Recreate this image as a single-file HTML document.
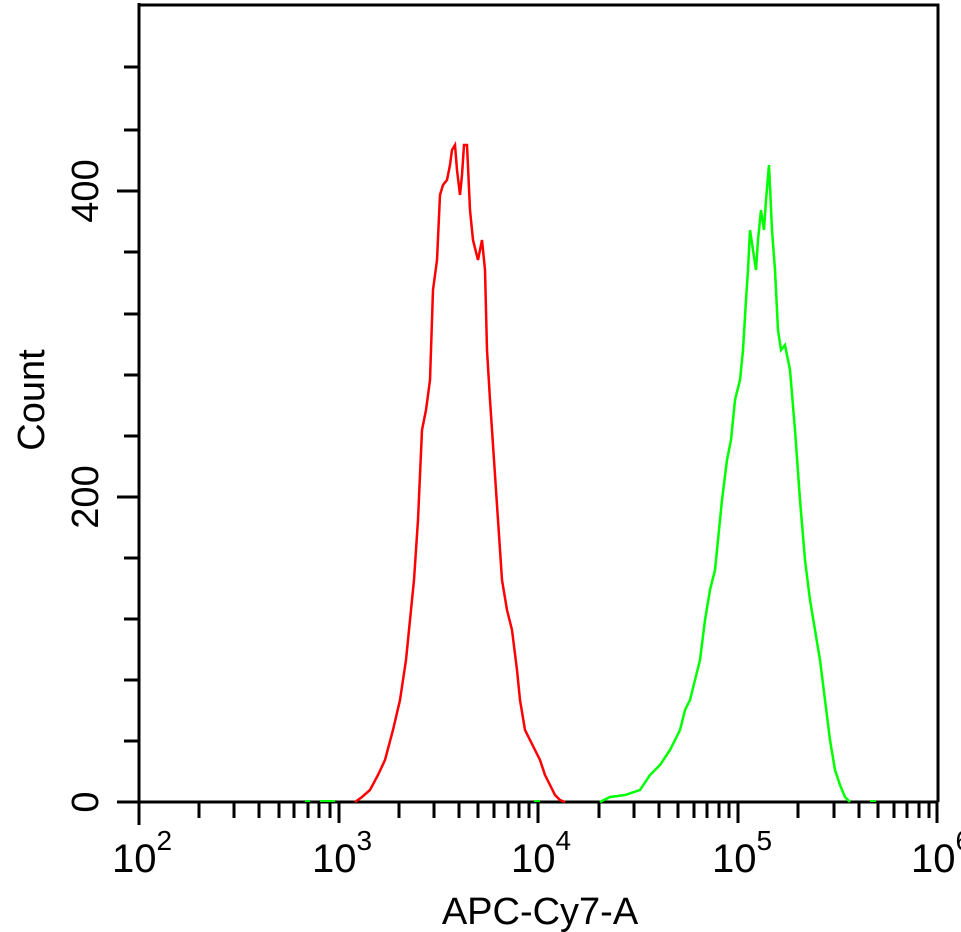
<!DOCTYPE html>
<html><head><meta charset="utf-8"><style>
html,body{margin:0;padding:0;background:#fff;width:961px;height:932px;overflow:hidden}
text{font-family:"Liberation Sans",sans-serif;fill:#000}
</style></head><body>
<svg width="961" height="932" viewBox="0 0 961 932" xmlns="http://www.w3.org/2000/svg">
<rect width="961" height="932" fill="#fff"/>
<g stroke="#000" stroke-width="3" fill="none">
<polyline points="139,5 938,5 938,802"/>
<line x1="139" y1="3" x2="139" y2="825"/>
<line x1="117" y1="802" x2="938" y2="802"/>
<line x1="124" y1="741" x2="139" y2="741"/>
<line x1="124" y1="680" x2="139" y2="680"/>
<line x1="124" y1="619" x2="139" y2="619"/>
<line x1="124" y1="558" x2="139" y2="558"/>
<line x1="117" y1="497" x2="139" y2="497"/>
<line x1="124" y1="436" x2="139" y2="436"/>
<line x1="124" y1="375" x2="139" y2="375"/>
<line x1="124" y1="314" x2="139" y2="314"/>
<line x1="124" y1="252" x2="139" y2="252"/>
<line x1="117" y1="191" x2="139" y2="191"/>
<line x1="124" y1="130" x2="139" y2="130"/>
<line x1="124" y1="67" x2="139" y2="67"/>
</g>
<path stroke="#000" stroke-width="3" fill="none" d="
M199,802V818 M234,802V818 M259,802V818 M279,802V818 M294,802V818 M308,802V818 M319,802V818 M330,802V818 M339,802V823
M399,802V818 M434,802V818 M459,802V818 M478,802V818 M494,802V818 M508,802V818 M519,802V818 M529,802V818 M538,802V823
M599,802V818 M634,802V818 M659,802V818 M678,802V818 M694,802V818 M707,802V818 M719,802V818 M729,802V818 M738,802V823
M798,802V818 M834,802V818 M859,802V818 M878,802V818 M894,802V818 M907,802V818 M919,802V818 M929,802V818 M937,802V823"/>
<g font-size="38">
<text transform="translate(98,802) rotate(-90)" text-anchor="middle">0</text>
<text transform="translate(98,497) rotate(-90)" text-anchor="middle">200</text>
<text transform="translate(98,191) rotate(-90)" text-anchor="middle">400</text>
<text transform="translate(44,400) rotate(-90)" text-anchor="middle" font-size="38">Count</text>
</g>
<g font-size="40">
<text x="112" y="872">10<tspan dy="-22" font-size="28">2</tspan></text>
<text x="312" y="872">10<tspan dy="-22" font-size="28">3</tspan></text>
<text x="511" y="872">10<tspan dy="-22" font-size="28">4</tspan></text>
<text x="712" y="872">10<tspan dy="-22" font-size="28">5</tspan></text>
<text x="911" y="872">10<tspan dy="-22" font-size="28">6</tspan></text>
<text x="540" y="924" text-anchor="middle" font-size="38">APC-Cy7-A</text>
</g>
<polyline fill="none" stroke="#ff0000" stroke-width="2.5" points="355,802 362,797 370,790 378,775 385,760 393,730 400,700 406,660 410,620 414,580 418,520 422,430 426,410 430,380 433,290 437,260 440,195 443,185 447,180 450,165 452,150 455,145 457,170 460,195 462,175 464,145 467,145 470,210 473,240 478,260 482,240 485,270 487,350 490,400 494,460 498,520 502,580 507,610 512,630 517,670 520,700 525,730 530,740 535,750 540,760 545,775 550,785 555,795 560,800 565,802"/>
<polyline fill="none" stroke="#00ff00" stroke-width="2.5" points="600,802 610,797 625,795 640,790 650,775 660,765 670,750 675,740 680,730 685,710 690,700 695,680 700,660 705,620 710,590 715,570 718,540 722,500 727,460 731,440 735,400 740,380 743,350 746,300 748,270 750,230 753,250 756,270 758,240 761,210 764,230 766,200 769,165 772,230 775,270 778,330 781,350 785,345 790,370 795,430 800,500 805,560 810,600 815,630 820,660 825,700 830,740 835,770 840,785 845,797 850,802"/>
<g stroke="#00ff00" stroke-width="2">
<line x1="305" y1="801" x2="310" y2="801"/><line x1="320" y1="801" x2="335" y2="801"/><line x1="534" y1="801" x2="540" y2="801"/><line x1="870" y1="801" x2="876" y2="801"/>
</g>
</svg>
</body></html>
